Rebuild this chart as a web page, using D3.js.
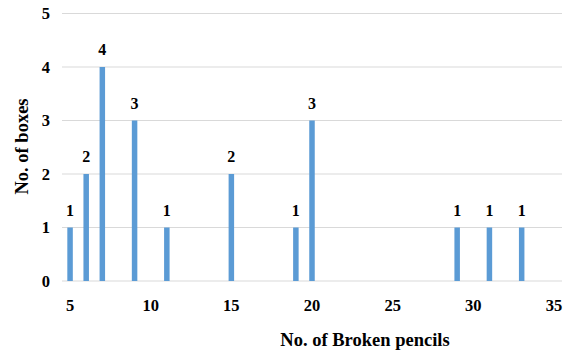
<!DOCTYPE html>
<html>
<head>
<meta charset="utf-8">
<script src="https://cdn.jsdelivr.net/npm/d3@7"></script>
</head>
<body style="margin:0">
<svg width="574" height="359"></svg>
<script>
// broken pencils per box -> number of boxes
const pencils = [5, 6, 7, 9, 11, 15, 19, 20, 29, 31, 33];
const boxes = [1, 2, 4, 3, 1, 2, 1, 3, 1, 1, 1];
const xTicks = [5, 10, 15, 20, 25, 30, 35];
const yTicks = [0, 1, 2, 3, 4, 5];

const data = pencils.map((p, i) => ({ p: p, n: boxes[i] }));

const svg = d3.select("svg");

const x = d3.scaleLinear().domain([4.5, 35.5]).range([62, 562]);
const y = d3.scaleLinear().domain([0, 5]).range([281, 13.5]);

// gridlines
svg.append("g")
    .selectAll("line")
    .data(yTicks)
    .enter().append("line")
        .attr("x1", x(4.5))
        .attr("x2", x(35.5))
        .attr("y1", d => y(d))
        .attr("y2", d => y(d))
        .attr("stroke", "#d9d9d9")
        .attr("stroke-width", 1);

// bars
const barW = 5.5;
svg.append("g")
    .selectAll("rect")
    .data(data)
    .enter().append("rect")
        .attr("x", d => x(d.p) - barW / 2)
        .attr("y", d => y(d.n))
        .attr("width", barW)
        .attr("height", d => y(0) - y(d.n))
        .attr("fill", "#5b9bd5");

// y tick labels
svg.append("g")
    .selectAll("text")
    .data(yTicks)
    .enter().append("text")
        .attr("font-family", "Liberation Serif")
        .attr("font-weight", "bold")
        .attr("font-size", 16.5)
        .attr("x", 50)
        .attr("y", d => y(d) + 5.7)
        .attr("text-anchor", "end")
        .text(d => d);

// x tick labels
svg.append("g")
    .selectAll("text")
    .data(xTicks)
    .enter().append("text")
        .attr("font-family", "Liberation Serif")
        .attr("font-weight", "bold")
        .attr("font-size", 16.5)
        .attr("x", d => x(d))
        .attr("y", 311)
        .attr("text-anchor", "middle")
        .text(d => d);

// value labels
svg.append("g")
    .selectAll("text")
    .data(data)
    .enter().append("text")
        .attr("font-family", "Liberation Serif")
        .attr("font-weight", "bold")
        .attr("font-size", 16)
        .attr("x", d => x(d.p))
        .attr("y", d => y(d.n) - 12)
        .attr("text-anchor", "middle")
        .text(d => d.n);

// axis titles
svg.append("text")
    .attr("font-family", "Liberation Serif")
    .attr("font-weight", "bold")
    .attr("font-size", 18.5)
    .attr("x", 365)
    .attr("y", 346)
    .attr("text-anchor", "middle")
    .text("No. of Broken pencils");

svg.append("text")
    .attr("font-family", "Liberation Serif")
    .attr("font-weight", "bold")
    .attr("font-size", 18.5)
    .attr("transform", "translate(28,146.5) rotate(-90)")
    .attr("text-anchor", "middle")
    .text("No. of boxes");
</script>
</body>
</html>
